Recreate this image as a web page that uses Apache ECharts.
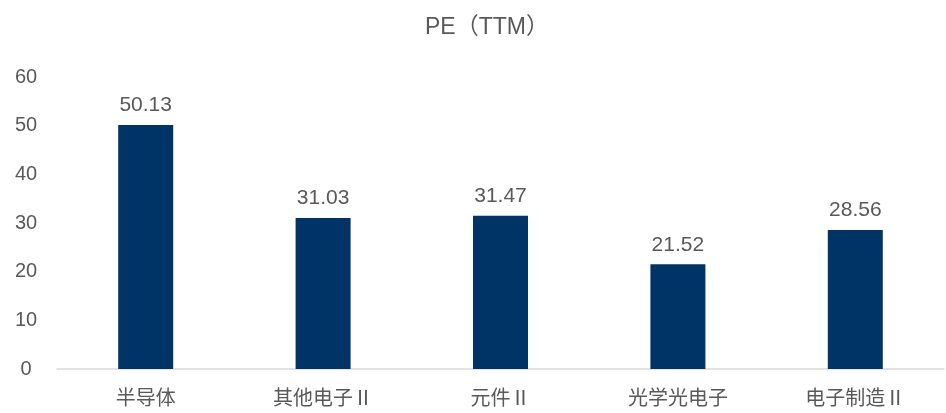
<!DOCTYPE html>
<html>
<head>
<meta charset="utf-8">
<script src="https://cdn.jsdelivr.net/npm/echarts@6/dist/echarts.min.js"></script>
<style>
  html, body { margin: 0; padding: 0; background: #fff; }
  #chart { width: 946px; height: 413px; }
</style>
</head>
<body>
<div id="chart"></div>
<script>
var categories = ['半导体', '其他电子Ⅱ', '元件Ⅱ', '光学光电子', '电子制造Ⅱ'];
var peValues = [50.13, 31.03, 31.47, 21.52, 28.56];
var yTicks = { min: 0, max: 60, interval: 10 };

var chart = echarts.init(document.getElementById('chart'));
chart.setOption({
    animation: false,
    textStyle: {
        fontFamily: '"Liberation Sans", Arial, "Noto Sans CJK SC", sans-serif'
    },
    title: {
        text: 'PE（TTM）',
        left: 420,
        top: 11,
        textStyle: {
            fontSize: 23,
            fontWeight: 'normal',
            color: '#595959'
        }
    },
    grid: {
        left: 57,
        right: 2,
        top: 77,
        bottom: 44
    },
    xAxis: {
        type: 'category',
        data: categories,
        axisLine: { lineStyle: { color: '#d9d9d9', width: 1.5 } },
        axisTick: { show: false },
        axisLabel: {
            color: '#595959',
            fontSize: 20,
            margin: 18,
            fontFamily: '"Noto Sans CJK SC", sans-serif'
        }
    },
    yAxis: {
        type: 'value',
        min: yTicks.min,
        max: yTicks.max,
        interval: yTicks.interval,
        axisLine: { show: false },
        axisTick: { show: false },
        splitLine: { show: false },
        axisLabel: {
            color: '#595959',
            fontSize: 20,
            align: 'center',
            margin: 31
        }
    },
    series: [{
        name: 'PE',
        type: 'bar',
        data: peValues,
        barWidth: 55,
        itemStyle: { color: '#003366' },
        label: {
            show: true,
            position: 'top',
            distance: 9,
            color: '#595959',
            fontSize: 21
        }
    }]
});
</script>
</body>
</html>
